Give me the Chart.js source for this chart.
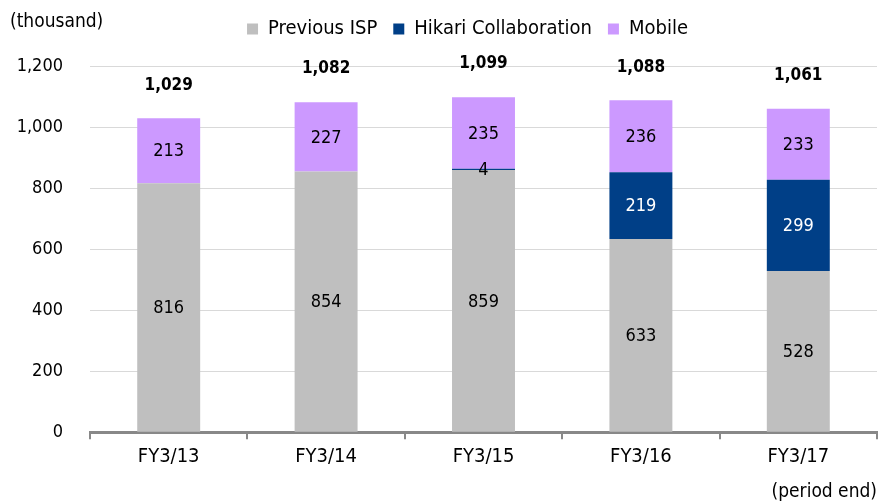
<!DOCTYPE html>
<html>
<head>
<meta charset="utf-8">
<script src="https://cdn.jsdelivr.net/npm/chart.js@4.4.0/dist/chart.umd.min.js"></script>
<style>
  html, body { margin: 0; padding: 0; background: #fff; }
  #wrap { width: 885px; height: 503px; position: relative; }
</style>
</head>
<body>
<div id="wrap"><canvas id="c"></canvas></div>
<script>
const years = ['FY3/13', 'FY3/14', 'FY3/15', 'FY3/16', 'FY3/17'];
const previousIsp = [816, 854, 859, 633, 528];
const hikari = [0, 0, 4, 219, 299];
const mobile = [213, 227, 235, 236, 233];
const totals = [1029, 1082, 1099, 1088, 1061];
const yTicks = [0, 200, 400, 600, 800, 1000, 1200];

const FONT = "'DejaVu Sans Condensed', 'DejaVu Sans', sans-serif";

// numbers inside the bars, totals above, and the loose caption
const labelPlugin = {
    id: 'labels',
    afterInit(chart) {
        // push the plot area down below the legend
        const lg = chart.legend;
        if (lg) {
            const fit = lg.fit;
            lg.fit = function () { fit.call(this); this.height += 17; };
        }
    },
    afterLayout(chart) {
        // legend sits a bit right of the page centre
        const lg = chart.legend;
        if (lg) { lg.left += 29; lg.right += 29; }
    },
    afterDatasetsDraw(chart) {
        const ctx = chart.ctx;
        const y = chart.scales.y;
        ctx.save();
        ctx.textAlign = 'center';
        ctx.textBaseline = 'middle';
        ctx.font = '18px ' + FONT;
        chart.data.datasets.forEach((ds, i) => {
            const meta = chart.getDatasetMeta(i);
            meta.data.forEach((bar, j) => {
                const v = ds.data[j];
                if (!v) return;
                const mid = (bar.y + bar.base) / 2;
                ctx.fillStyle = v < 20 ? '#000' : ds.labelColor;
                ctx.fillText(v.toLocaleString('en-US'), bar.x, mid + 1);
            });
        });
        ctx.font = 'bold 17px ' + FONT;
        ctx.fillStyle = '#000';
        const meta = chart.getDatasetMeta(0);
        totals.forEach((t, j) => {
            ctx.fillText(t.toLocaleString('en-US'), meta.data[j].x, y.getPixelForValue(t) - 33);
        });
        ctx.font = '19px ' + FONT;
        ctx.textAlign = 'left';
        ctx.fillText('(thousand)', 10, 22);
        ctx.restore();
    }
};

new Chart(document.getElementById('c'), {
    type: 'bar',
    data: {
        labels: years,
        datasets: [
            { label: 'Previous ISP', data: previousIsp, backgroundColor: '#BFBFBF', labelColor: '#000' },
            { label: 'Hikari Collaboration', data: hikari, backgroundColor: '#003F87', labelColor: '#fff' },
            { label: 'Mobile', data: mobile, backgroundColor: '#CC99FF', labelColor: '#000' }
        ]
    },
    options: {
        responsive: true,
        maintainAspectRatio: false,
        animation: false,
        layout: { padding: { left: 0, right: 8, top: 3, bottom: 0 } },
        datasets: { bar: { barPercentage: 0.4, categoryPercentage: 1.0 } },
        plugins: {
            legend: {
                position: 'top',
                labels: {
                    boxWidth: 11, boxHeight: 11, padding: 16,
                    color: '#000',
                    font: { family: FONT, size: 20 }
                }
            },
            tooltip: { enabled: false }
        },
        scales: {
            x: {
                stacked: true,
                offset: true,
                grid: { drawOnChartArea: false, offset: true, tickLength: 7, color: '#888', lineWidth: 2 },
                border: { color: '#888', width: 3 },
                ticks: { color: '#000', font: { family: FONT, size: 20 }, padding: 6 },
                title: { display: true, text: '(period end)', align: 'end', color: '#000',
                         font: { family: FONT, size: 19 }, padding: { top: 5, bottom: 0 } }
            },
            y: {
                stacked: true,
                min: 0, max: 1200,
                afterBuildTicks(scale) { scale.ticks = yTicks.map(v => ({ value: v })); },
                afterFit(scale) { scale.width = 90; },
                grid: { color: '#D9D9D9', drawTicks: false },
                border: { display: false },
                ticks: {
                    color: '#000', padding: 27,
                    font: { family: FONT, size: 18 },
                    callback: v => v.toLocaleString('en-US')
                }
            }
        }
    },
    plugins: [labelPlugin]
});
</script>
</body>
</html>
